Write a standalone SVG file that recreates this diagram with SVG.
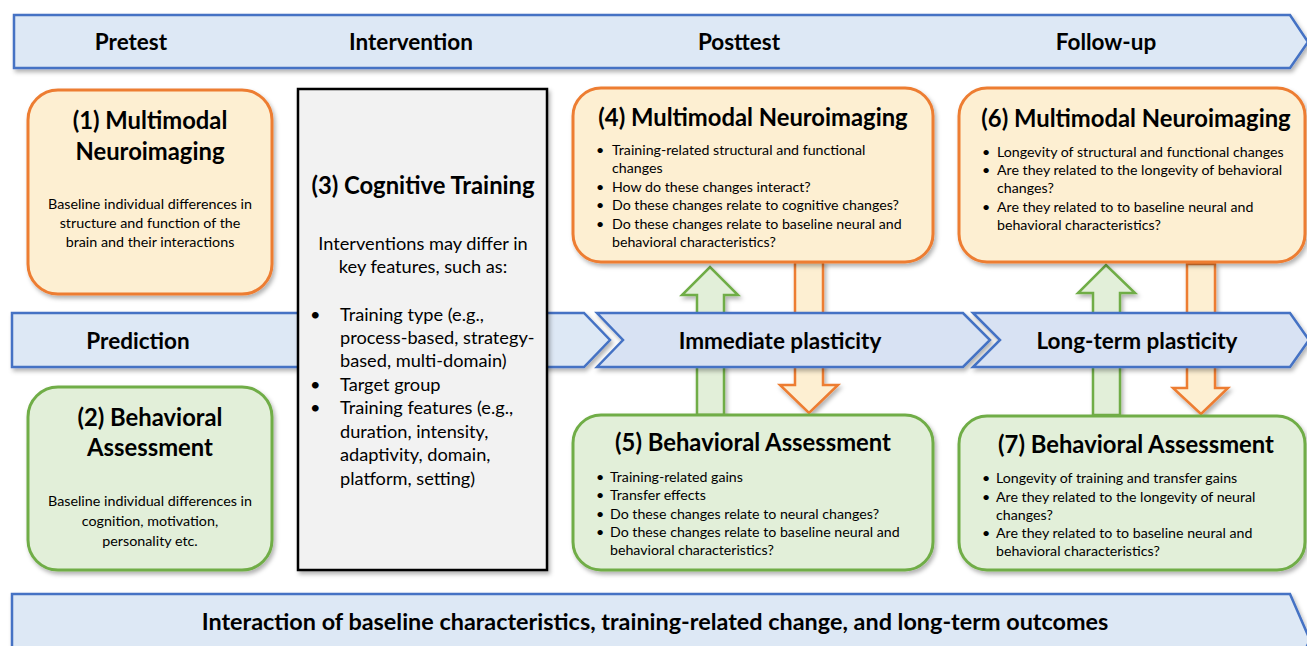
<svg xmlns="http://www.w3.org/2000/svg" width="1307" height="646" viewBox="0 0 1307 646">
  <style>
    text { font-family: Lato, "Open Sans", "Liberation Sans", sans-serif; fill: #000; }
    .hdr { font-size: 22.5px; font-weight: bold; text-anchor: middle; }
    .ttl { font-size: 23.8px; font-weight: bold; text-anchor: middle; }
    .body { font-size: 14.3px; text-anchor: middle; }
    .li { font-size: 14.2px; }
    .li3 { font-size: 18.2px; }
    .band { fill: #dde8f5; stroke: #4472c4; stroke-width: 2.5; }
    .chev { fill: #d8e2f3; stroke: #4472c4; stroke-width: 2.5; }
    .neuro { fill: #fdefd2; stroke: #ed7d31; stroke-width: 3; }
    .behav { fill: #e2efd9; stroke: #70ad47; stroke-width: 3; }
    .train { fill: #f2f2f2; stroke: #000; stroke-width: 2.5; }
    .up { fill: #e2efd9; stroke: #70ad47; stroke-width: 2.5; }
    .down { fill: #fdefd2; stroke: #ed7d31; stroke-width: 2.5; }
  </style>
  <defs>
    <filter id="shadow" x="-10%" y="-10%" width="125%" height="130%">
      <feDropShadow dx="2" dy="3" stdDeviation="2" flood-color="#000" flood-opacity="0.3"/>
    </filter>
  </defs>

  <!-- phase band -->
  <g id="phases">
    <path class="band" filter="url(#shadow)" d="M14,15 H1290 L1308,42 L1290,68 H14 Z"/>
    <text class="hdr" x="131" y="50">Pretest</text>
    <text class="hdr" x="411" y="50">Intervention</text>
    <text class="hdr" x="739" y="50">Posttest</text>
    <text class="hdr" x="1106" y="50">Follow-up</text>
  </g>

  <!-- vertical connectors between imaging and behavioral blocks -->
  <g id="connectors">
    <path class="up" filter="url(#shadow)" d="M697,415 V295 H682 L710,267 L738,295 H724 V415 Z"/>
    <path class="down" filter="url(#shadow)" d="M795,262 H823 V385 H838 L809,413 L780,385 H795 Z"/>
    <path class="up" filter="url(#shadow)" d="M1093,415 V293 H1078 L1106,265 L1135,293 H1120 V415 Z"/>
    <path class="down" filter="url(#shadow)" d="M1187,264 H1215 V388 H1228 L1201,414 L1173,388 H1187 Z"/>
  </g>

  <!-- plasticity chevrons -->
  <g id="prediction">
    <path class="band" filter="url(#shadow)" d="M12,313 H584 L610,340 L584,367 H12 Z"/>
    <text class="hdr" x="138" y="349">Prediction</text>
  </g>
  <g id="immediate">
    <path class="chev" filter="url(#shadow)" d="M597,313 H963 L990,340 L963,367 H597 L623,340 Z"/>
    <text class="hdr" x="780" y="349">Immediate plasticity</text>
  </g>
  <g id="longterm">
    <path class="chev" filter="url(#shadow)" d="M973,313 H1290 L1309,340 L1290,367 H973 L1000,340 Z"/>
    <text class="hdr" x="1137" y="349">Long-term plasticity</text>
  </g>

  <!-- (1) baseline imaging -->
  <g id="n1">
    <rect class="neuro" filter="url(#shadow)" x="28" y="90" width="244" height="204" rx="30"/>
    <text class="ttl" x="150" y="129">(1) Multimodal</text>
    <text class="ttl" x="150" y="160">Neuroimaging</text>
    <text class="body" x="150" y="209">Baseline individual differences in</text>
    <text class="body" x="150" y="228">structure and function of the</text>
    <text class="body" x="150" y="247">brain and their interactions</text>
  </g>

  <!-- (2) baseline behaviour -->
  <g id="n2">
    <rect class="behav" filter="url(#shadow)" x="28" y="387" width="244" height="183" rx="30"/>
    <text class="ttl" x="150" y="426">(2) Behavioral</text>
    <text class="ttl" x="150" y="456">Assessment</text>
    <text class="body" x="150" y="506">Baseline individual differences in</text>
    <text class="body" x="150" y="526">cognition, motivation,</text>
    <text class="body" x="150" y="546">personality etc.</text>
  </g>

  <!-- (3) intervention -->
  <g id="n3">
    <rect class="train" filter="url(#shadow)" x="298" y="89" width="249" height="481"/>
    <text class="ttl" x="423" y="194">(3) Cognitive Training</text>
    <text class="li3" x="423" y="250" text-anchor="middle">Interventions may differ in</text>
    <text class="li3" x="423" y="273" text-anchor="middle">key features, such as:</text>
    <g class="li3">
      <text x="310" y="321">•</text><text x="340" y="321">Training type (e.g.,</text>
      <text x="340" y="344">process-based, strategy-</text>
      <text x="340" y="367">based, multi-domain)</text>
      <text x="310" y="391">•</text><text x="340" y="391">Target group</text>
      <text x="310" y="414">•</text><text x="340" y="414">Training features (e.g.,</text>
      <text x="340" y="438">duration, intensity,</text>
      <text x="340" y="461">adaptivity, domain,</text>
      <text x="340" y="485">platform, setting)</text>
    </g>
  </g>

  <!-- (4) posttest imaging -->
  <g id="n4">
    <rect class="neuro" filter="url(#shadow)" x="573" y="88" width="360" height="174" rx="28"/>
    <text class="ttl" x="753" y="126">(4) Multimodal Neuroimaging</text>
    <g class="li">
      <text x="596" y="155">•</text><text x="612" y="155">Training-related structural and functional</text>
      <text x="612" y="173">changes</text>
      <text x="596" y="192">•</text><text x="612" y="192">How do these changes interact?</text>
      <text x="596" y="210">•</text><text x="612" y="210">Do these changes relate to cognitive changes?</text>
      <text x="596" y="229">•</text><text x="612" y="229">Do these changes relate to baseline neural and</text>
      <text x="612" y="247">behavioral characteristics?</text>
    </g>
  </g>

  <!-- (5) posttest behaviour -->
  <g id="n5">
    <rect class="behav" filter="url(#shadow)" x="573" y="415" width="360" height="155" rx="28"/>
    <text class="ttl" x="753" y="451">(5) Behavioral Assessment</text>
    <g class="li">
      <text x="596" y="482">•</text><text x="610" y="482">Training-related gains</text>
      <text x="596" y="500">•</text><text x="610" y="500">Transfer effects</text>
      <text x="596" y="519">•</text><text x="610" y="519">Do these changes relate to neural changes?</text>
      <text x="596" y="537">•</text><text x="610" y="537">Do these changes relate to baseline neural and</text>
      <text x="610" y="555">behavioral characteristics?</text>
    </g>
  </g>

  <!-- (6) follow-up imaging -->
  <g id="n6">
    <rect class="neuro" filter="url(#shadow)" x="959" y="88" width="346" height="174" rx="28"/>
    <text class="ttl" x="1136" y="127">(6) Multimodal Neuroimaging</text>
    <g class="li">
      <text x="982" y="157">•</text><text x="997" y="157">Longevity of structural and functional changes</text>
      <text x="982" y="175">•</text><text x="997" y="175">Are they related to the longevity of behavioral</text>
      <text x="997" y="193">changes?</text>
      <text x="982" y="212">•</text><text x="997" y="212">Are they related to to baseline neural and</text>
      <text x="997" y="230">behavioral characteristics?</text>
    </g>
  </g>

  <!-- (7) follow-up behaviour -->
  <g id="n7">
    <rect class="behav" filter="url(#shadow)" x="959" y="416" width="346" height="154" rx="28"/>
    <text class="ttl" x="1136" y="453">(7) Behavioral Assessment</text>
    <g class="li">
      <text x="982" y="483">•</text><text x="996" y="483">Longevity of training and transfer gains</text>
      <text x="982" y="502">•</text><text x="996" y="502">Are they related to the longevity of neural</text>
      <text x="996" y="520">changes?</text>
      <text x="982" y="538">•</text><text x="996" y="538">Are they related to to baseline neural and</text>
      <text x="996" y="556">behavioral characteristics?</text>
    </g>
  </g>

  <!-- outcome band -->
  <g id="outcome">
    <path class="band" filter="url(#shadow)" d="M12,594 H1290 L1310,640 L1300,660 H12 Z"/>
    <text class="hdr" x="655" y="630" style="font-size:23.4px">Interaction of baseline characteristics, training-related change, and long-term outcomes</text>
  </g>
</svg>
